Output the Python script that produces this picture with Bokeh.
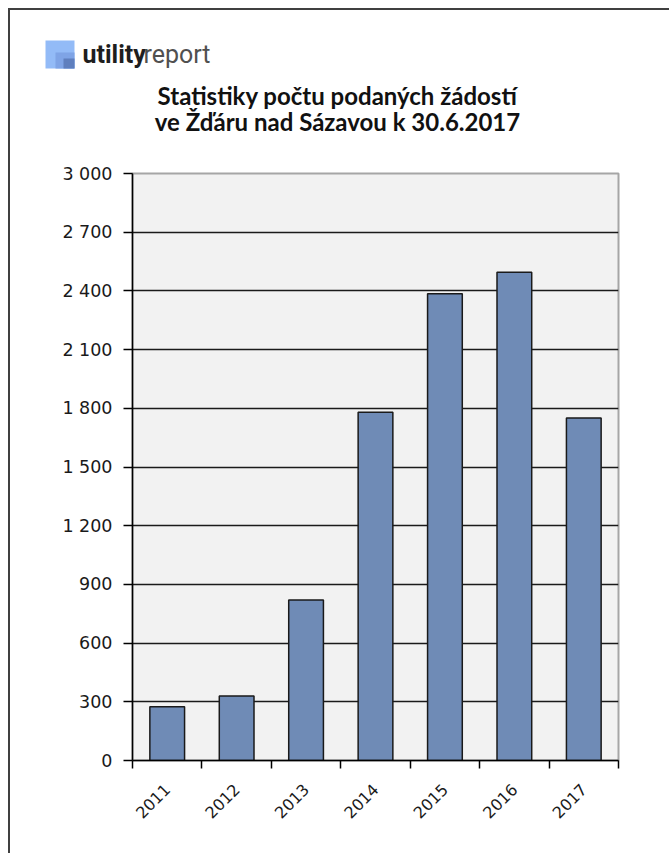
import math
from bokeh.plotting import figure
from bokeh.layouts import column
from bokeh.models import FixedTicker, Range1d
from bokeh.core.properties import value
from bokeh.embed import file_html
from bokeh.resources import INLINE

years = ["2011", "2012", "2013", "2014", "2015", "2016", "2017"]
counts = [275, 330, 820, 1780, 2385, 2495, 1750]
yticks = [0, 300, 600, 900, 1200, 1500, 1800, 2100, 2400, 2700, 3000]
ytick_labels = ["0", "300", "600", "900", "1 200", "1 500", "1 800", "2 100", "2 400", "2 700", "3 000"]
title_lines = ["Statistiky počtu podaných žádostí", "ve Žďáru nad Sázavou k 30.6.2017"]
logo_bold = "utility"
logo_light = "report"

TICK_FONT = "DejaVu Sans"
TITLE_FONT = "Lato"
W = 659
HEAD_H = 153
MAIN_H = 690

# ---------- header (logo + title) ----------
h = figure(width=W, height=HEAD_H, output_backend="svg", toolbar_location=None,
           x_range=Range1d(0, W), y_range=Range1d(HEAD_H, 0),
           min_border=0, min_border_left=0, min_border_right=0,
           min_border_top=0, min_border_bottom=0)
h.frame_align = False
h.axis.visible = False
h.xgrid.grid_line_color = None
h.ygrid.grid_line_color = None
h.outline_line_color = None
h.background_fill_color = "white"
h.border_fill_color = "white"

h.quad(left=[35, 45, 53], right=[64, 64, 64], top=[30, 42, 48], bottom=[58, 58, 58],
       fill_color=["#93BBF7", "#7FA4E6", "#5F7FBE"], line_color=None)
h.text(x=[72], y=[44], text=[logo_bold], text_align="left", text_baseline="alphabetic",
       text_font=value("Roboto"), text_font_style="bold", text_font_size="25px",
       text_color="#1E1E1E")
h.text(x=[133], y=[44], text=[logo_light], text_align="left", text_baseline="alphabetic",
       text_font=value("Roboto"), text_font_size="25px", text_color="#505050")
h.text(x=[327, 327], y=[85, 111], text=title_lines, text_align="center",
       text_baseline="alphabetic", text_font=value(TITLE_FONT), text_font_style="bold",
       text_font_size="24px", text_color="#111111")

# ---------- main chart ----------
p = figure(width=W, height=MAIN_H, output_backend="svg", toolbar_location=None,
           x_range=Range1d(0, len(years)), y_range=Range1d(0, 3000),
           min_border_left=122, min_border_right=51, min_border_top=10, min_border_bottom=93)
p.frame_align = False
p.background_fill_color = "#F2F2F2"
p.border_fill_color = "white"
p.outline_line_color = "#A6A6A6"
p.outline_line_width = 2

xs = [i + 0.5 for i in range(len(years))]
p.vbar(x=xs, top=counts, width=0.5, fill_color="#6F8BB6",
       line_color="#1A1A1A", line_width=1.5)

xa = p.xaxis[0]
xa.ticker = FixedTicker(ticks=xs, minor_ticks=list(range(len(years) + 1)))
xa.major_label_overrides = {x: y for x, y in zip(xs, years)}
xa.major_tick_out = 0
xa.major_tick_in = 0
xa.minor_tick_out = 8
xa.minor_tick_in = 0
xa.minor_tick_line_color = "black"
xa.minor_tick_line_width = 1.5
xa.axis_line_color = "black"
xa.axis_line_width = 1.5
xa.major_label_orientation = math.pi / 4
xa.major_label_text_font = TICK_FONT
xa.major_label_text_font_size = "16px"
xa.major_label_text_color = "#1A1A1A"
xa.major_label_standoff = 18

ya = p.yaxis[0]
ya.ticker = FixedTicker(ticks=yticks)
ya.major_label_overrides = {t: s for t, s in zip(yticks, ytick_labels)}
ya.major_tick_out = 9
ya.major_tick_in = 0
ya.major_tick_line_color = "black"
ya.major_tick_line_width = 1.5
ya.minor_tick_line_color = None
ya.axis_line_color = "black"
ya.axis_line_width = 1.5
ya.major_label_text_font = TICK_FONT
ya.major_label_text_font_size = "17.5px"
ya.major_label_text_color = "#1A1A1A"
ya.major_label_standoff = 11

p.xgrid.grid_line_color = None
p.ygrid.ticker = FixedTicker(ticks=yticks)
p.ygrid.grid_line_color = "#1A1A1A"
p.ygrid.grid_line_width = 1.5

layout = column(h, p, spacing=0)
layout.styles = {"margin-left": "8px", "margin-top": "8px",
                 "border-left": "2px solid #404040", "border-top": "2px solid #404040"}

open("out.html", "w").write(file_html(layout, INLINE))
